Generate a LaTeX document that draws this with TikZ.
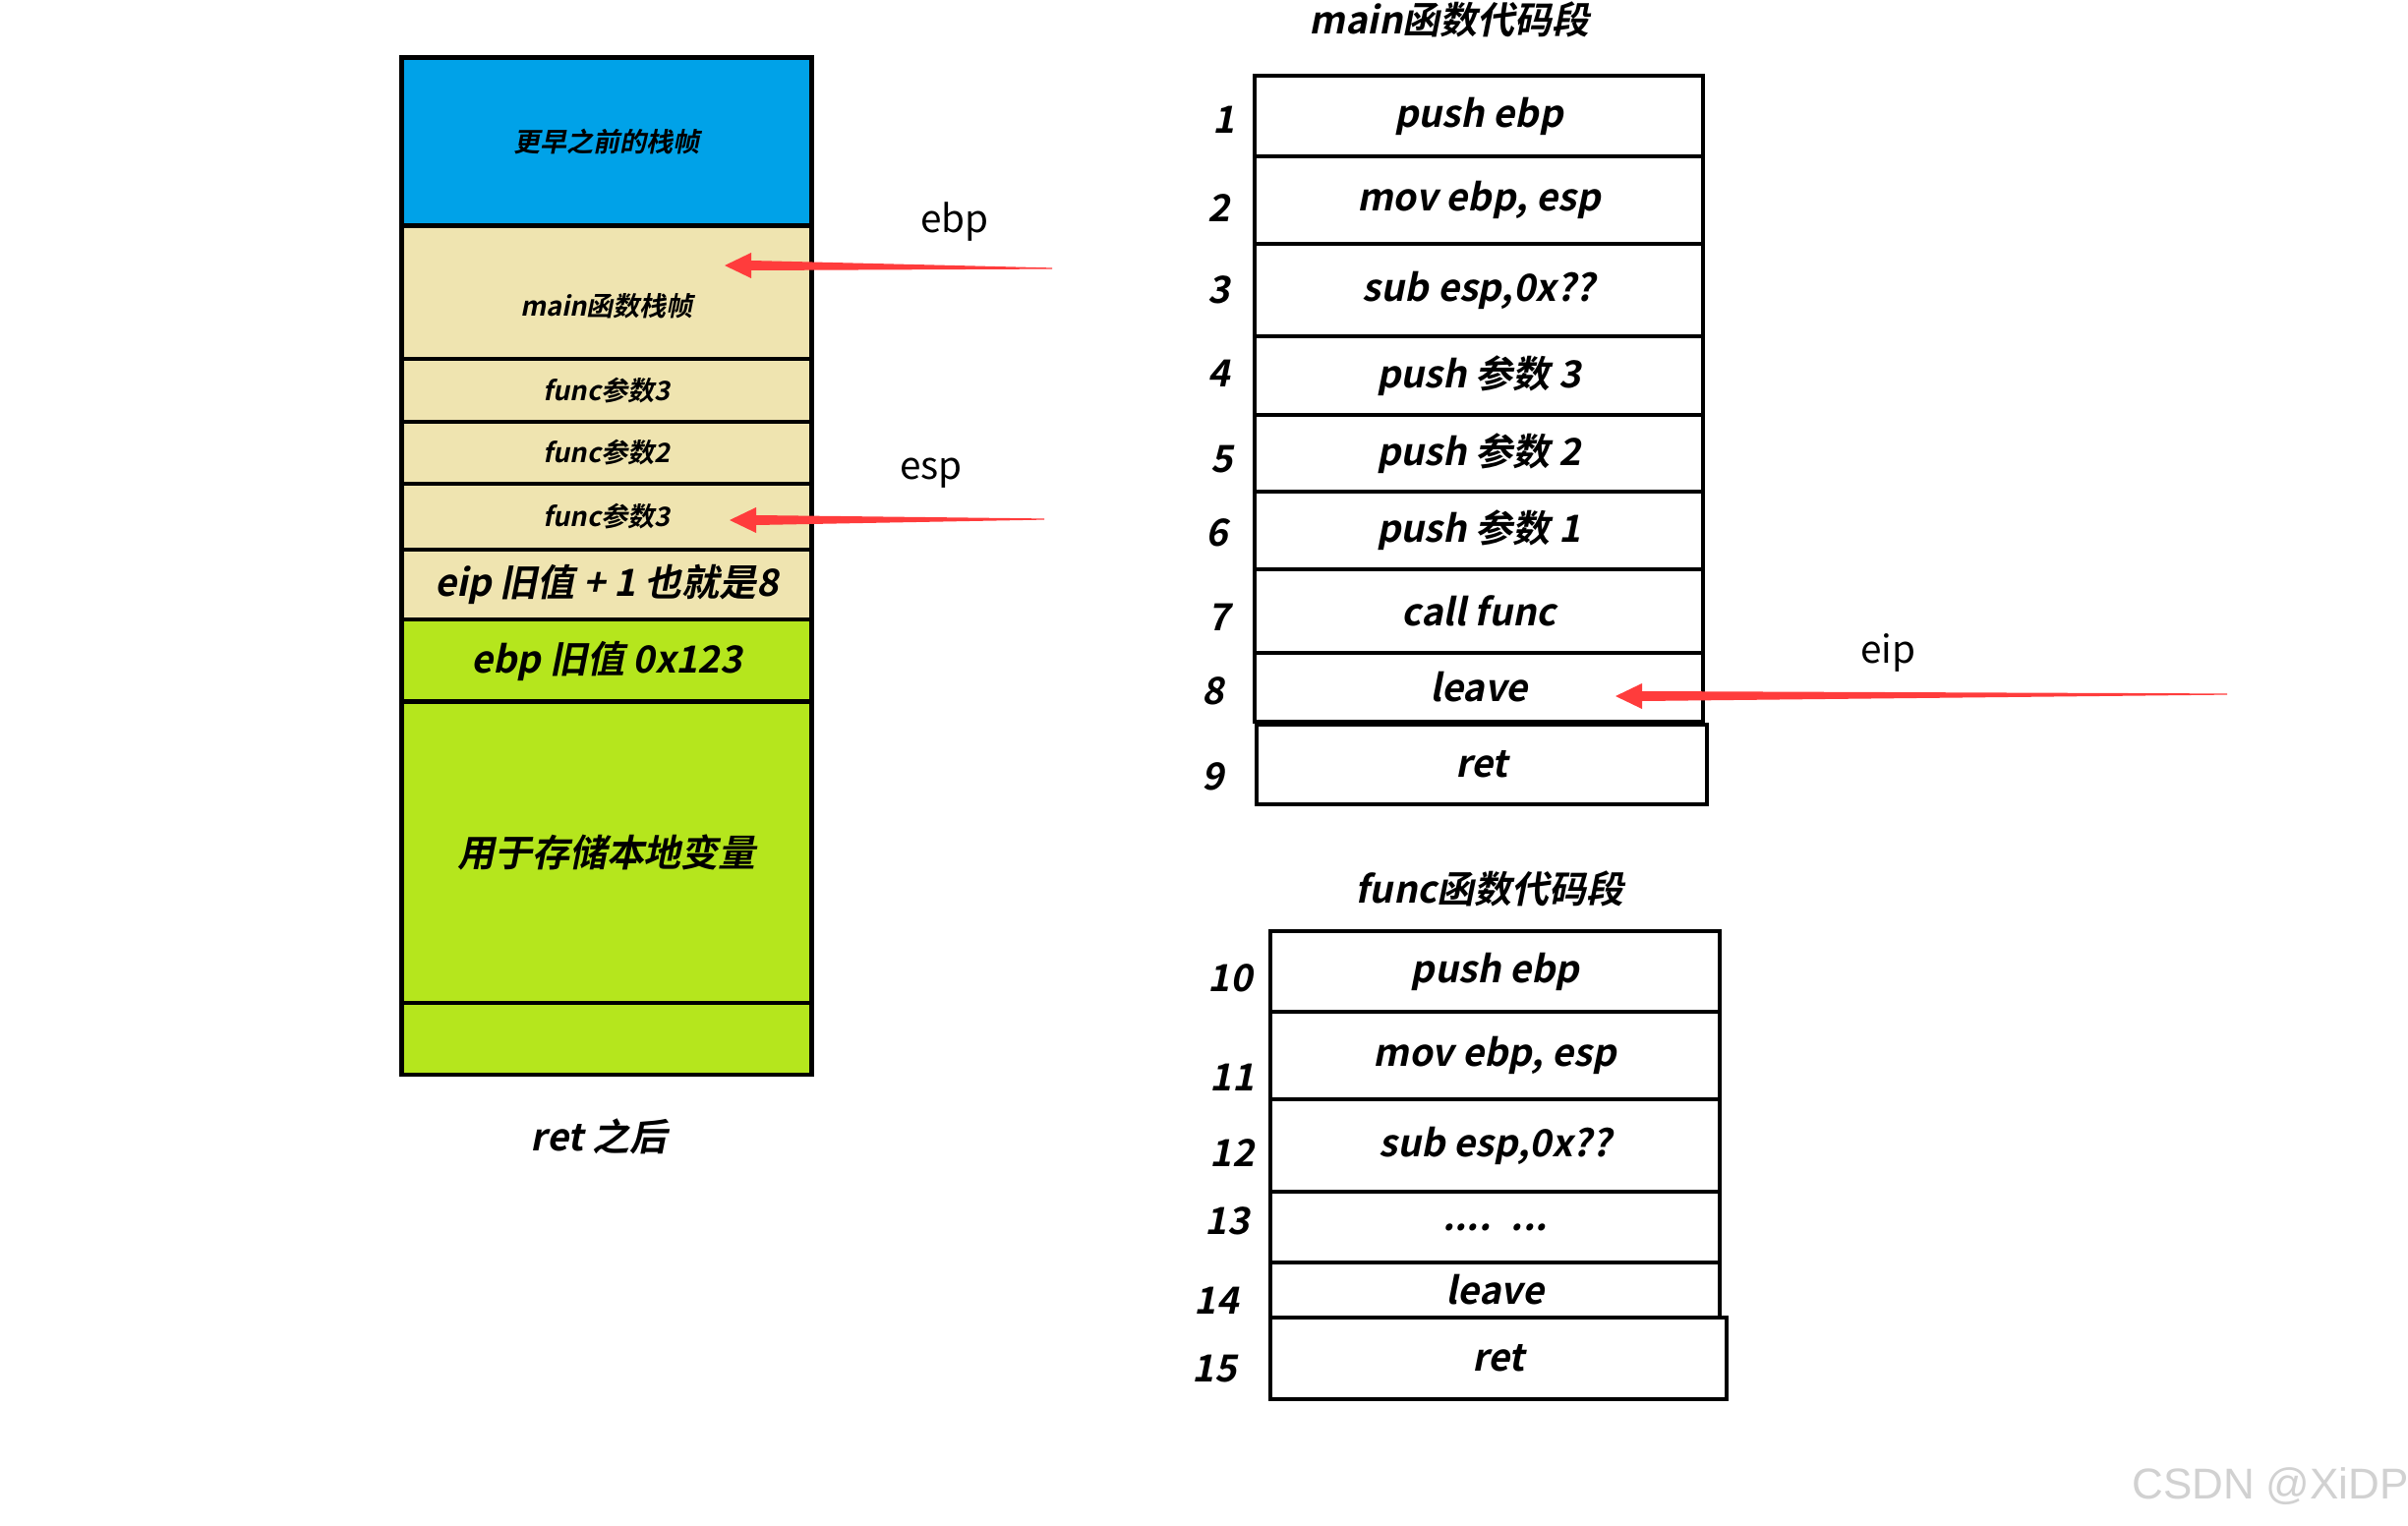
\documentclass[tikz,border=0pt]{standalone}
\usepackage{fontspec}
\setmainfont{Noto Sans CJK SC}
\newfontfamily\boldit{Noto Sans CJK SC Bold}[FakeSlant=0.2]
\newfontfamily\wmfont{Liberation Sans}
\usetikzlibrary{positioning,calc}

\definecolor{oldblue}{HTML}{00A2E8}
\definecolor{frametan}{HTML}{EFE4B0}
\definecolor{localgreen}{HTML}{B5E61D}
\definecolor{ptrred}{HTML}{FF3C3C}

\tikzset{
  bigtext/.style={font=\boldit\fontsize{10.8}{12}\selectfont},
  smalltext/.style={font=\boldit\fontsize{7.7}{9}\selectfont},
  cell/.style={draw, line width=1.4pt, minimum width=4.16cm, inner sep=0pt, bigtext},
  coderow/.style={draw, line width=1.3pt, minimum width=4.56cm, inner sep=0pt, bigtext},
  lineno/.style={bigtext},
  reglabel/.style={font=\fontsize{11}{13}\selectfont},
}

% tapered red pointer: tail -> tip
\newcommand{\pointer}[2]{%
  \fill[ptrred] ($(#1)+(0,-0.6)$) -- ($(#2)+(27,-5)$) -- ($(#2)+(27,-13)$) -- (#2)
    -- ($(#2)+(27,13)$) -- ($(#2)+(27,5)$) -- ($(#1)+(0,0.6)$) -- cycle;}

\begin{document}
\begin{tikzpicture}[x=0.01cm, y=-0.01cm]
    \useasboundingbox (0,0) rectangle (2449,1552);
    \fill[white] (0,0) rectangle (2449,1552);

    % Stack after ret
    \node[cell, smalltext, fill=oldblue, minimum height=1.71cm] (older) at (617,144.5) {更早之前的栈帧};
    \node[cell, smalltext, fill=frametan, minimum height=1.35cm, text height=0.52cm, text depth=0.05cm] (mainframe) at (617,297.5) {main函数栈帧};
    \node[cell, smalltext, fill=frametan, minimum height=0.64cm] (fargc) at (617,397) {func参数3};
    \node[cell, smalltext, fill=frametan, minimum height=0.63cm] (fargb) at (617,460.5) {func参数2};
    \node[cell, smalltext, fill=frametan, minimum height=0.67cm] (farga) at (617,525.5) {func参数3};
    \node[cell, fill=frametan, minimum height=0.71cm] (eipold) at (617,594.5) {eip 旧值 + 1 也就是8};
    \node[cell, fill=localgreen, minimum height=0.84cm] (ebpold) at (617,672) {ebp 旧值 0x123};
    \node[cell, fill=localgreen, minimum height=3.06cm] (locals) at (617,867) {用于存储本地变量};
    \node[cell, fill=localgreen, minimum height=0.73cm] (spare) at (617,1056.5) {};
    \node[bigtext] (after) at (609,1156) {ret 之后};

    % main code
    \node[bigtext] (maintitle) at (1474,20) {main函数代码段};
    \node[coderow, minimum height=0.82cm] (m1) at (1504,118) {push ebp};
    \node[coderow, minimum height=0.89cm] (m2) at (1504,203.5) {mov ebp, esp};
    \node[coderow, minimum height=0.94cm] (m3) at (1504,295) {sub esp,0x??};
    \node[coderow, minimum height=0.80cm] (m4) at (1504,382) {push 参数 3};
    \node[coderow, minimum height=0.78cm] (m5) at (1504,461) {push 参数 2};
    \node[coderow, minimum height=0.79cm] (m6) at (1504,539.5) {push 参数 1};
    \node[coderow, minimum height=0.85cm] (m7) at (1504,621.5) {call func};
    \node[coderow, minimum height=0.70cm] (m8) at (1504,699) {leave};
    \node[coderow, minimum height=0.81cm, minimum width=4.58cm] (m9) at (1507,777.5) {ret};

    \node[lineno] (n1) at (1245,122) {1};
    \node[lineno] (n2) at (1240,212) {2};
    \node[lineno] (n3) at (1240,295) {3};
    \node[lineno] (n4) at (1240,380) {4};
    \node[lineno] (n5) at (1243,467) {5};
    \node[lineno] (n6) at (1238,542) {6};
    \node[lineno] (n7) at (1240,628) {7};
    \node[lineno] (n8) at (1234,703) {8};
    \node[lineno] (n9) at (1234,790) {9};

    % func code
    \node[bigtext] (functitle) at (1515,904) {func函数代码段};
    \node[coderow, minimum width=4.57cm, minimum height=0.82cm] (f10) at (1520.5,988) {push ebp};
    \node[coderow, minimum width=4.57cm, minimum height=0.89cm] (f11) at (1520.5,1073.5) {mov ebp, esp};
    \node[coderow, minimum width=4.57cm, minimum height=0.94cm] (f12) at (1520.5,1165) {sub esp,0x??};
    \node[coderow, minimum width=4.57cm, minimum height=0.72cm] (f13) at (1520.5,1248) {.... \ ...};
    \node[coderow, minimum width=4.57cm, minimum height=0.56cm] (f14) at (1520.5,1312) {leave};
    \node[coderow, minimum width=4.64cm, minimum height=0.83cm] (f15) at (1524,1381.5) {ret};

    \node[lineno] (n10) at (1251,995) {10};
    \node[lineno] (n11) at (1253,1096) {11};
    \node[lineno] (n12) at (1253,1173) {12};
    \node[lineno] (n13) at (1248,1242) {13};
    \node[lineno] (n14) at (1237,1323) {14};
    \node[lineno] (n15) at (1235,1392) {15};

    % Registers
    \node[reglabel] (ebplabel) at (971,226) {ebp};
    \node[reglabel] (esplabel) at (947,481) {esp};
    \node[reglabel] (eiplabel) at (1920,664) {eip};
    \coordinate (ebptail) at (1070,273);
    \coordinate (ebptip) at (737,270);
    \coordinate (esptail) at (1062,528);
    \coordinate (esptip) at (742,529);
    \coordinate (eiptail) at (2265,706);
    \coordinate (eiptip) at (1643,708);
    \pointer{ebptail}{ebptip}
    \pointer{esptail}{esptip}
    \pointer{eiptail}{eiptip}

    \node[font=\wmfont\fontsize{12.5}{14}\selectfont, text=black!18] (mark) at (2309,1512) {CSDN @XiDP};
\end{tikzpicture}
\end{document}
